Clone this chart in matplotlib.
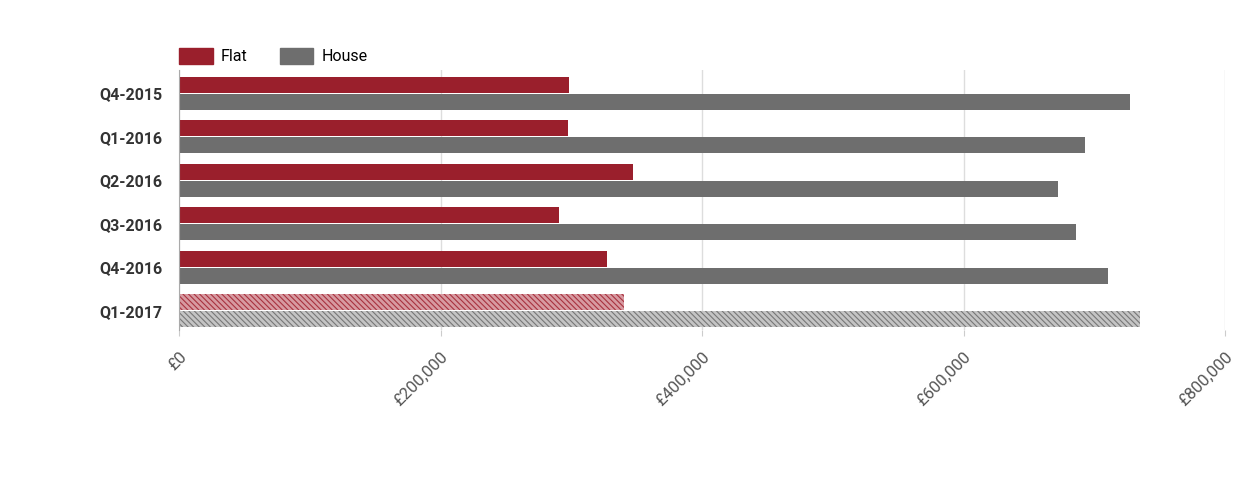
import numpy as np
import matplotlib.pyplot as plt
from matplotlib.patches import Patch

plt.rcParams['font.family'] = ['Liberation Sans Narrow', 'Roboto', 'DejaVu Sans']
plt.rcParams['hatch.linewidth'] = 0.8

quarters = ['Q4-2015', 'Q1-2016', 'Q2-2016', 'Q3-2016', 'Q4-2016', 'Q1-2017']
flat = [298000, 297500, 347000, 291000, 327000, 340000]
house = [727000, 693000, 672000, 686000, 710500, 735000]
xticks = [0, 200000, 400000, 600000, 800000]
xtick_labels = ['£0', '£200,000', '£400,000', '£600,000', '£800,000']

flat_color = '#9a1f2c'
house_color = '#6e6e6e'

fig = plt.figure(figsize=(12.52, 4.98), dpi=100)
ax = fig.add_axes([179 / 1252, 1 - 330 / 498, (1225 - 179) / 1252, 260 / 498])

y = np.arange(len(quarters))
h = 0.37
for i in range(len(quarters)):
    last = i == len(quarters) - 1
    if last:
        # latest quarter is provisional, drawn hatched
        ax.barh(y[i] - h / 2 - 0.01, flat[i], h, color='#d79aa1', edgecolor='#a8323f',
                hatch='\\\\\\\\\\\\', linewidth=0)
        ax.barh(y[i] + h / 2 + 0.01, house[i], h, color='#c4c4c4', edgecolor='#777777',
                hatch='\\\\\\\\\\\\', linewidth=0)
    else:
        ax.barh(y[i] - h / 2 - 0.01, flat[i], h, color=flat_color)
        ax.barh(y[i] + h / 2 + 0.01, house[i], h, color=house_color)

ax.set_ylim(len(quarters) - 0.56, -0.53)
ax.set_xlim(0, 800000)
ax.set_yticks(y)
ax.set_yticklabels(quarters, fontsize=11.5, fontweight='bold', color='#333333')
ax.set_xticks(xticks)
ax.set_xticklabels(xtick_labels, rotation=45, ha='right', rotation_mode='anchor',
                   fontsize=12, color='#555555')
ax.tick_params(axis='y', length=0, pad=12)
ax.tick_params(axis='x', length=4, color='#cccccc', pad=10)
ax.xaxis.grid(True, color='#dddddd', linewidth=1)
ax.set_axisbelow(True)
for s in ['top', 'right', 'bottom']:
    ax.spines[s].set_visible(False)
ax.spines['left'].set_color('#aaaaaa')

handles = [Patch(color=flat_color, label='Flat'), Patch(color=house_color, label='House')]
fig.legend(handles=handles, loc='upper left', bbox_to_anchor=(173 / 1252, 1 - 42 / 498),
           ncol=2, frameon=False, fontsize=11.5, handlelength=2.1, handleheight=1.1,
           columnspacing=2.0, handletextpad=0.5, borderaxespad=0)

fig.savefig('out.png', dpi=100)
